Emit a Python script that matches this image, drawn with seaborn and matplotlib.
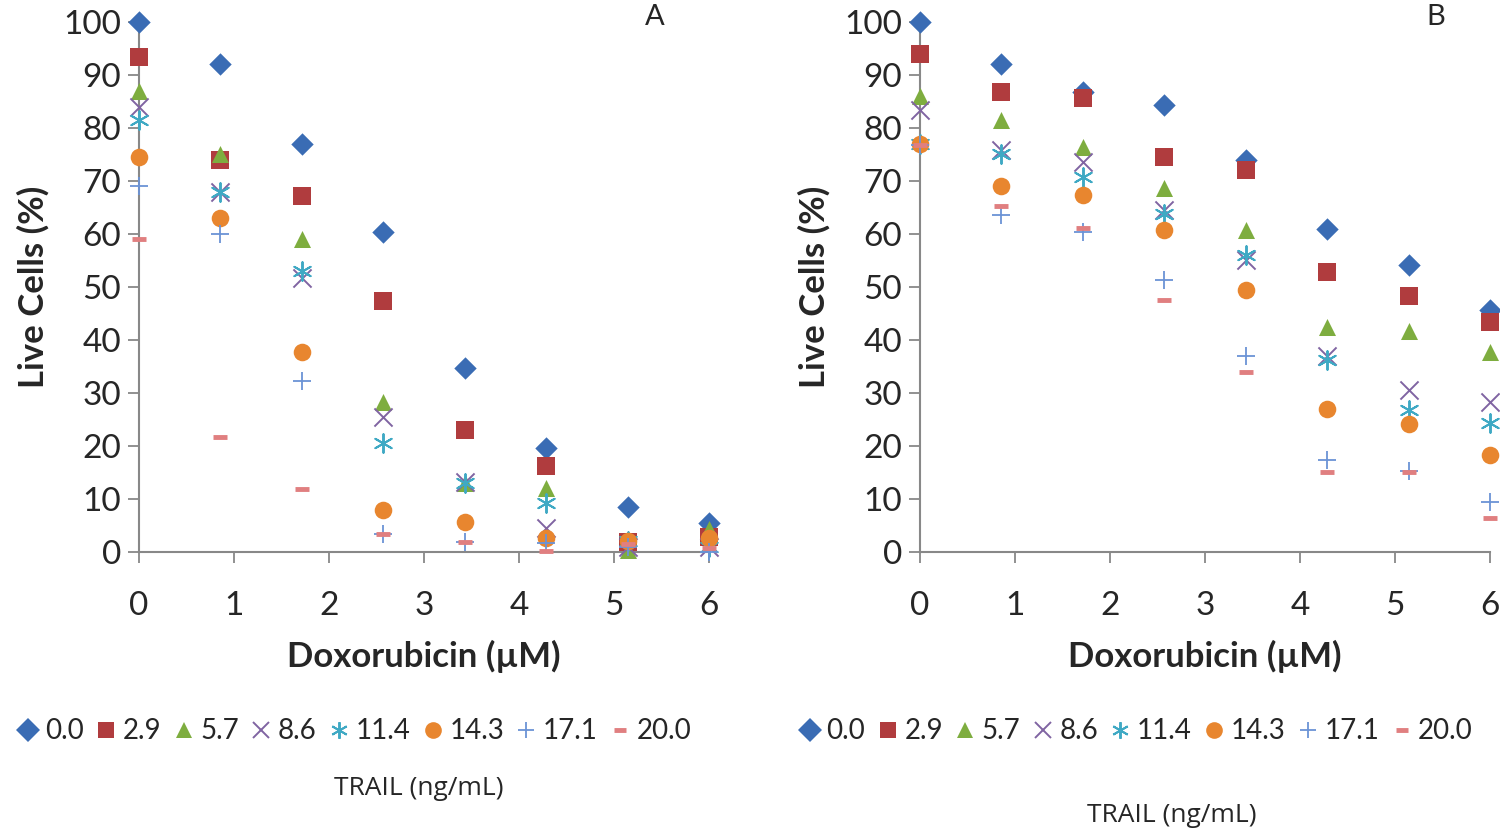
import numpy as np
import pandas as pd
import matplotlib
matplotlib.use("Agg")
import matplotlib.pyplot as plt
import seaborn as sns
from matplotlib.lines import Line2D

sns.set_style("white")
plt.rcParams['font.family'] = ['Lato', 'DejaVu Sans']

# doxorubicin doses (uM)
dox = [0, 0.857, 1.714, 2.571, 3.429, 4.286, 5.143, 6.0]
trail = ["0.0", "2.9", "5.7", "8.6", "11.4", "14.3", "17.1", "20.0"]

# live cells (%) panel A, one list per TRAIL dose
a_00 = [100, 92, 77, 60.4, 34.7, 19.6, 8.5, 5.5]
a_29 = [93.4, 74, 67.2, 47.4, 23, 16.2, 1.9, 2.8]
a_57 = [87, 75, 59, 28.3, 13, 12, 0.4, 4.4]
a_86 = [84, 68, 51.7, 25.5, 13.2, 4.5, 1.0, 1.0]
a_114 = [81.5, 68, 53, 20.6, 13, 9.3, 2.0, 1.0]
a_143 = [74.5, 63, 37.7, 7.9, 5.7, 2.6, 2.0, 2.6]
a_171 = [69, 60, 32.3, 3.4, 1.9, 1.7, 1.0, 0.0]
a_200 = [59, 21.7, 11.9, 3.4, 1.9, 0.2, 1.5, 0.8]

# panel B
b_00 = [100, 92, 86.8, 84.3, 74, 61, 54.2, 45.6]
b_29 = [94, 86.8, 85.6, 74.6, 72, 52.8, 48.2, 43.4]
b_57 = [86, 81.5, 76.4, 68.6, 60.8, 42.5, 41.7, 37.7]
b_86 = [83.4, 75.8, 73.5, 64.5, 55, 37, 30.6, 28.3]
b_114 = [77, 75, 70.8, 63.8, 56, 36.2, 26.8, 24.3]
b_143 = [77, 69, 67.4, 60.8, 49.4, 27, 24.2, 18.3]
b_171 = [76.8, 63.6, 60.3, 51.3, 37, 17.4, 15.3, 9.4]
b_200 = [76.7, 65.3, 61.1, 47.5, 34, 15, 15, 6.4]

panel_a = [a_00, a_29, a_57, a_86, a_114, a_143, a_171, a_200]
panel_b = [b_00, b_29, b_57, b_86, b_114, b_143, b_171, b_200]

markers = ['D', 's', '^', 'x', (6, 2, 0), 'o', '+', '_']
colors = ['#3A6CB4', '#B03C3E', '#7EAD3F', '#8064A2', '#3FA9C4', '#E8862F', '#6B93D6', '#E07F80']
sizes = [130, 160, 150, 170, 180, 160, 180, 90]
lws = [0, 0, 0, 1.4, 1.4, 0, 1.3, 3.5]

fig = plt.figure(figsize=(15, 8.3), dpi=100)
ax_a = fig.add_axes([0.0927, 0.335, 0.38, 0.6386])
ax_b = fig.add_axes([0.6133, 0.335, 0.38, 0.6386])

for ax, data, letter in [(ax_a, panel_a, "A"), (ax_b, panel_b, "B")]:
    for i, vals in enumerate(data):
        df = pd.DataFrame({"dox": dox, "live": vals})
        kw = dict(marker=markers[i], s=sizes[i], ax=ax, clip_on=False, zorder=3)
        if lws[i] == 0:
            sns.scatterplot(data=df, x="dox", y="live", color=colors[i], linewidth=0, **kw)
        else:
            sns.scatterplot(data=df, x="dox", y="live", color=colors[i], edgecolor=colors[i],
                            linewidth=lws[i], **kw)
    ax.set_xlim(0, 6)
    ax.set_ylim(0, 100)
    ax.set_xticks(range(7))
    ax.set_yticks(range(0, 101, 10))
    ax.tick_params(axis='both', labelsize=24, direction='out', length=8, width=1.3,
                   color='#888888', left=True, bottom=True, pad=5)
    ax.tick_params(axis='x', pad=20)
    sns.despine(ax=ax)
    for sp in ['left', 'bottom']:
        ax.spines[sp].set_color('#888888')
        ax.spines[sp].set_linewidth(1.5)
    ax.set_xlabel("Doxorubicin (\u00b5M)", fontsize=25, fontweight='bold', labelpad=14)
    ax.set_ylabel("Live Cells (%)", fontsize=25, fontweight='bold', labelpad=10)
    ax.text(0.905, 1.01, letter, transform=ax.transAxes, fontsize=21, ha='center', va='center')
    if ax.get_legend():
        ax.get_legend().remove()

handles = []
for i in range(8):
    mew = lws[i] if lws[i] else 0.0
    handles.append(Line2D([], [], linestyle='none', marker=markers[i], color=colors[i],
                          markerfacecolor=colors[i], markeredgecolor=colors[i],
                          markersize=12 if i != 7 else 8, markeredgewidth=mew))

for x0, tx, ty in [(0.006, 0.279, 0.05), (0.527, 0.781, 0.018)]:
    fig.legend(handles, trail, loc='center left', bbox_to_anchor=(x0, 0.119), ncol=8,
               frameon=False, handlelength=0.6, handletextpad=0.3, columnspacing=0.5,
               borderaxespad=0, prop={'size': 20})
    fig.text(tx, ty, "TRAIL (ng/mL)", fontsize=19, ha='center', va='center',
             family=['Open Sans', 'DejaVu Sans'])

fig.savefig("out.png", dpi=100)
